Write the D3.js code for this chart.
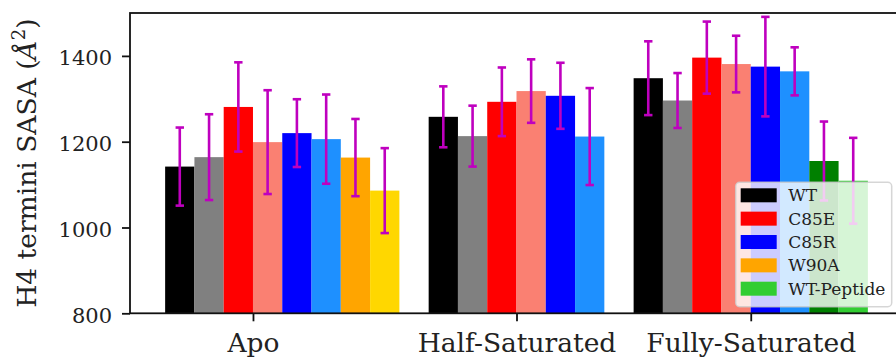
<!DOCTYPE html>
<html>
<head>
<meta charset="utf-8">
<script src="https://cdnjs.cloudflare.com/ajax/libs/d3/7.8.5/d3.min.js"></script>
<style>
  body { margin: 0; background: #fff; }
  svg { display: block; }
</style>
</head>
<body>
<div id="chart"></div>
<script>
// group labels and where their ticks sit (in bar-slot units)
const groups = ['Apo', 'Half-Saturated', 'Fully-Saturated'];
const groupTicks = [3, 12, 20];

// bar means and error (std) per group, left to right
const apoMeans = [1142, 1164, 1281, 1199, 1220, 1206, 1163, 1086];
const apoErr = [91, 100, 104, 121, 79, 104, 90, 99];
const halfMeans = [1258, 1213, 1293, 1318, 1307, 1212];
const halfErr = [71, 71, 80, 74, 77, 113];
const fullMeans = [1348, 1296, 1396, 1381, 1375, 1364, 1155, 1109];
const fullErr = [86, 64, 84, 66, 116, 56, 92, 100];

const apoColors = ['black', 'gray', 'red', 'salmon', 'blue', 'dodgerblue', 'orange', 'gold'];
const halfColors = ['black', 'gray', 'red', 'salmon', 'blue', 'dodgerblue'];
const fullColors = ['black', 'gray', 'red', 'salmon', 'blue', 'dodgerblue', 'green', 'limegreen'];

const legendNames = ['WT', 'C85E', 'C85R', 'W90A', 'WT-Peptide'];
const legendColors = ['black', 'red', 'blue', 'orange', 'limegreen'];

const yTicks = [800, 1000, 1200, 1400];

// build one flat list of bars, one empty slot between groups
const groupMeans = [apoMeans, halfMeans, fullMeans];
const groupErrs = [apoErr, halfErr, fullErr];
const groupColors = [apoColors, halfColors, fullColors];
const bars = [];
let slot = 0;
groupMeans.forEach((means, g) => {
  means.forEach((m, i) => {
    bars.push({slot: slot, mean: m, err: groupErrs[g][i], color: groupColors[g][i]});
    slot++;
  });
  slot++;
});

const W = 896, H = 363;
const svg = d3.select('#chart').append('svg')
  .attr('width', W)
  .attr('height', H)
  .style('font-family', '"DejaVu Serif", serif');

const x = d3.scaleLinear().domain([-1.2, 25.2]).range([130, 903]);
const y = d3.scaleLinear().domain([800, 1500]).range([313.3, 13]);

// bars
svg.append('g').selectAll('rect')
  .data(bars)
  .join('rect')
    .attr('x', d => x(d.slot))
    .attr('width', d => x(d.slot + 1) - x(d.slot))
    .attr('y', d => y(d.mean))
    .attr('height', d => y(800) - y(d.mean))
    .attr('fill', d => d.color);

// error bars
const eb = svg.append('g')
  .attr('stroke', '#bf00bf')
  .attr('stroke-width', 2.6);
bars.forEach(d => {
  const cx = x(d.slot + 0.5);
  eb.append('line')
    .attr('x1', cx).attr('x2', cx)
    .attr('y1', y(d.mean - d.err)).attr('y2', y(d.mean + d.err));
  [d.mean - d.err, d.mean + d.err].forEach(v => {
    eb.append('line')
      .attr('x1', cx - 4.2).attr('x2', cx + 4.2)
      .attr('y1', y(v)).attr('y2', y(v));
  });
});

// axes
const yAxis = d3.axisLeft(y).tickValues(yTicks).tickFormat(d3.format('d'))
  .tickSize(8).tickPadding(10);
const gy = svg.append('g').attr('transform', `translate(${x(-1.2)},0)`).call(yAxis);
gy.select('.domain').remove();
gy.selectAll('line').attr('stroke', '#111').attr('stroke-width', 1.8);
gy.selectAll('text')
  .attr('font-size', 21)
  .attr('font-family', '"DejaVu Serif", serif')
  .attr('fill', '#222')
  .attr('dy', '0.42em');

const xAxis = d3.axisBottom(x).tickValues(groupTicks)
  .tickFormat((d, i) => groups[i]).tickSize(8).tickPadding(10);
const gx = svg.append('g').attr('transform', `translate(0,${y(800)})`).call(xAxis);
gx.select('.domain').remove();
gx.selectAll('line').attr('stroke', '#111').attr('stroke-width', 1.8);
gx.selectAll('text')
  .attr('font-size', 26.5)
  .attr('font-family', '"DejaVu Serif", serif')
  .attr('fill', '#222')
  .attr('dy', '0.78em');

// frame
svg.append('rect')
  .attr('x', x(-1.2)).attr('y', y(1500))
  .attr('width', x(25.2) - x(-1.2)).attr('height', y(800) - y(1500))
  .attr('fill', 'none')
  .attr('stroke', '#111')
  .attr('stroke-width', 1.8);

// y label
const yl = svg.append('text')
  .attr('transform', `translate(36,${(y(800) + y(1500)) / 2}) rotate(-90)`)
  .attr('text-anchor', 'middle')
  .attr('font-size', 26.5)
  .attr('fill', '#222');
yl.append('tspan').text('H4 termini SASA (');
yl.append('tspan').attr('font-style', 'italic').text('Å');
yl.append('tspan').attr('font-size', 18).attr('dy', -11).text('2');
yl.append('tspan').attr('dy', 11).text(')');

// legend
const leg = svg.append('g').attr('transform', 'translate(735.7,182.3)');
leg.append('rect')
  .attr('width', 156).attr('height', 124.4)
  .attr('rx', 4)
  .attr('fill', 'white').attr('fill-opacity', 0.8)
  .attr('stroke', '#cccccc').attr('stroke-opacity', 0.8).attr('stroke-width', 1.5);
legendNames.forEach((name, i) => {
  const row = leg.append('g').attr('transform', `translate(0,${13 + i * 23.35})`);
  row.append('rect')
    .attr('x', 5).attr('y', -7)
    .attr('width', 36).attr('height', 14)
    .attr('fill', legendColors[i]);
  row.append('text')
    .attr('x', 52.5).attr('dy', '0.36em')
    .attr('font-size', 17)
    .attr('fill', '#222')
    .text(name);
});
</script>
</body>
</html>
